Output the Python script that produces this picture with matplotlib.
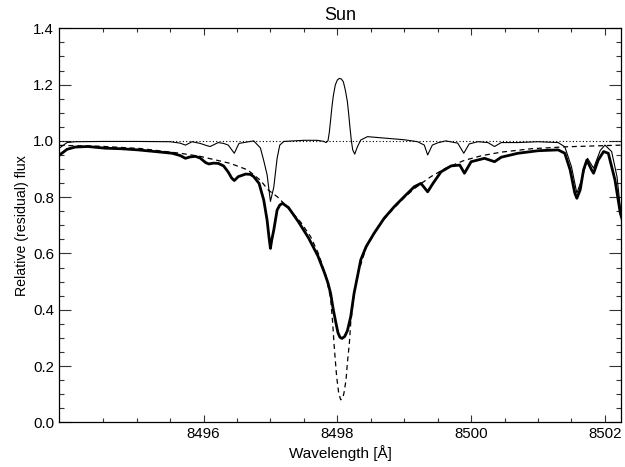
import matplotlib
matplotlib.use("Agg")
import matplotlib.pyplot as plt
from matplotlib.ticker import FixedLocator, MultipleLocator

plt.rcParams["font.family"] = ["Liberation Sans", "DejaVu Sans"]

# observed solar spectrum (thick line)
obs_wl = [8493.85, 8493.96, 8494.08, 8494.27, 8494.53, 8494.78, 8495.02, 8495.28,
          8495.53, 8495.65, 8495.73, 8495.80, 8495.88, 8495.95, 8496.03, 8496.08,
          8496.15, 8496.22, 8496.30, 8496.37, 8496.42, 8496.46, 8496.52, 8496.63,
          8496.70, 8496.75, 8496.83, 8496.90, 8496.95, 8496.98, 8497.00, 8497.02,
          8497.05, 8497.10, 8497.14, 8497.18, 8497.27, 8497.42, 8497.57, 8497.71,
          8497.81, 8497.86, 8497.90, 8497.94, 8497.98, 8498.01, 8498.04, 8498.07,
          8498.11, 8498.15, 8498.20, 8498.25, 8498.30, 8498.35, 8498.43, 8498.55,
          8498.70, 8498.85, 8499.00, 8499.15, 8499.25, 8499.35, 8499.43, 8499.55,
          8499.70, 8499.83, 8499.90, 8500.00, 8500.20, 8500.35, 8500.45, 8500.70,
          8501.00, 8501.30, 8501.40, 8501.48, 8501.55, 8501.58, 8501.63, 8501.68,
          8501.73, 8501.80, 8501.83, 8501.90, 8501.98, 8502.05, 8502.15, 8502.23,
          8502.26]
obs_flux = [0.950, 0.970, 0.978, 0.980, 0.974, 0.972, 0.968, 0.962,
            0.956, 0.948, 0.938, 0.943, 0.945, 0.939, 0.923, 0.918,
            0.921, 0.920, 0.911, 0.889, 0.868, 0.859, 0.873, 0.882,
            0.881, 0.873, 0.849, 0.790, 0.719, 0.655, 0.618, 0.648,
            0.683, 0.754, 0.772, 0.778, 0.763, 0.712, 0.655, 0.591,
            0.530, 0.495, 0.458, 0.400, 0.352, 0.318, 0.302, 0.298,
            0.305, 0.325, 0.375, 0.458, 0.517, 0.577, 0.624, 0.672,
            0.725, 0.766, 0.802, 0.837, 0.849, 0.819, 0.849, 0.890,
            0.911, 0.914, 0.885, 0.926, 0.938, 0.926, 0.942, 0.956,
            0.965, 0.968, 0.956, 0.897, 0.814, 0.796, 0.826, 0.897,
            0.932, 0.897, 0.885, 0.932, 0.962, 0.956, 0.861, 0.743,
            0.719]

# fitted Ca II line profile (dashed)
mod_wl = [8493.85, 8494.45, 8495.05, 8495.65, 8495.95, 8496.40, 8496.66, 8496.85,
          8496.97, 8497.11, 8497.20, 8497.30, 8497.45, 8497.60, 8497.72, 8497.83,
          8497.90, 8497.93, 8497.95, 8497.97, 8497.99, 8498.02, 8498.05, 8498.08,
          8498.10, 8498.13, 8498.15, 8498.18, 8498.20, 8498.25, 8498.30, 8498.43,
          8498.55, 8498.70, 8498.85, 8499.00, 8499.15, 8499.25, 8499.40, 8499.62,
          8499.89, 8500.15, 8500.45, 8500.90, 8501.42, 8502.26]
mod_flux = [0.984, 0.981, 0.973, 0.956, 0.945, 0.920, 0.897, 0.860,
            0.825, 0.800, 0.778, 0.752, 0.712, 0.660, 0.598, 0.520,
            0.440, 0.355, 0.281, 0.220, 0.162, 0.105, 0.080, 0.085,
            0.105, 0.150, 0.210, 0.281, 0.352, 0.458, 0.522, 0.620,
            0.670, 0.722, 0.762, 0.798, 0.830, 0.848, 0.873, 0.903,
            0.930, 0.947, 0.960, 0.972, 0.979, 0.985]

# residual spectrum (thin line)
res_wl = [8493.85, 8493.96, 8494.08, 8494.50, 8495.00, 8495.50, 8495.65, 8495.73,
          8495.83, 8495.95, 8496.05, 8496.10, 8496.22, 8496.30, 8496.37, 8496.46,
          8496.53, 8496.75, 8496.85, 8496.90, 8496.95, 8497.00, 8497.05, 8497.10,
          8497.14, 8497.20, 8497.50, 8497.70, 8497.80, 8497.83, 8497.86, 8497.88,
          8497.90, 8497.92, 8497.94, 8497.97, 8498.00, 8498.03, 8498.06, 8498.09,
          8498.12, 8498.15, 8498.17, 8498.19, 8498.21, 8498.23, 8498.26, 8498.30,
          8498.35, 8498.45, 8498.60, 8498.80, 8499.00, 8499.20, 8499.30, 8499.35,
          8499.42, 8499.50, 8499.62, 8499.80, 8499.89, 8499.97, 8500.10, 8500.25,
          8500.35, 8500.45, 8500.70, 8501.00, 8501.30, 8501.40, 8501.50, 8501.58,
          8501.65, 8501.74, 8501.83, 8501.93, 8502.00, 8502.10, 8502.18, 8502.24]
res_flux = [0.975, 0.994, 0.997, 0.998, 0.998, 0.997, 0.992, 0.985,
            0.997, 0.991, 0.983, 0.980, 0.994, 0.991, 0.985, 0.956,
            0.991, 1.000, 0.975, 0.930, 0.880, 0.785, 0.835, 0.938,
            0.985, 0.998, 1.002, 1.002, 0.998, 0.994, 1.000, 1.030,
            1.075, 1.122, 1.160, 1.199, 1.216, 1.222, 1.220, 1.210,
            1.180, 1.140, 1.095, 1.045, 1.000, 0.968, 0.953, 0.979,
            1.003, 1.015, 1.012, 1.008, 1.004, 0.997, 0.985, 0.950,
            0.985, 0.993, 1.000, 0.992, 0.956, 0.989, 0.997, 0.994,
            0.980, 0.994, 0.994, 0.997, 0.994, 0.979, 0.908, 0.814,
            0.861, 0.938, 0.903, 0.966, 0.985, 0.962, 0.873, 0.740]

x_range = (8493.84, 8502.24)
y_range = (0.0, 1.4)

fig = plt.figure(figsize=(6.25, 4.67), dpi=100)
ax = fig.add_axes([0.0944, 0.0957, 0.8992, 0.8437])

ax.axhline(1.0, color="black", lw=0.8, ls=(0, (1, 2)))
ax.plot(res_wl, res_flux, color="black", lw=0.8)
ax.plot(mod_wl, mod_flux, color="black", lw=0.9, ls=(0, (4, 3)))
ax.plot(obs_wl, obs_flux, color="black", lw=2.0)

ax.set_xlim(*x_range)
ax.set_ylim(*y_range)
ax.xaxis.set_major_locator(FixedLocator([8496, 8498, 8500, 8502]))
ax.xaxis.set_minor_locator(FixedLocator([8494.5, 8495, 8495.5, 8496.5, 8497, 8497.5,
                                         8498.5, 8499, 8499.5, 8500.5, 8501, 8501.5]))
ax.yaxis.set_major_locator(MultipleLocator(0.2))
ax.yaxis.set_minor_locator(MultipleLocator(0.05))
ax.xaxis.set_major_formatter(plt.FuncFormatter(lambda v, p: f"{v:.0f}"))
ax.yaxis.set_major_formatter(plt.FuncFormatter(lambda v, p: f"{v:.1f}"))

ax.tick_params(which="both", direction="in", top=True, right=True,
               labelsize=10.8, width=0.8, color="#333333")
ax.tick_params(axis="x", which="major", length=5)
ax.tick_params(axis="x", which="minor", length=3)
ax.tick_params(axis="y", which="major", length=8.5)
ax.tick_params(axis="y", which="minor", length=3.5)
for s in ax.spines.values():
    s.set_linewidth(0.9)

ax.set_title("Sun", fontsize=13, pad=6)
ax.set_xlabel("Wavelength [Å]", fontsize=11, labelpad=3)
ax.set_ylabel("Relative (residual) flux", fontsize=10.2, labelpad=3)

fig.savefig("out.png", dpi=100)
